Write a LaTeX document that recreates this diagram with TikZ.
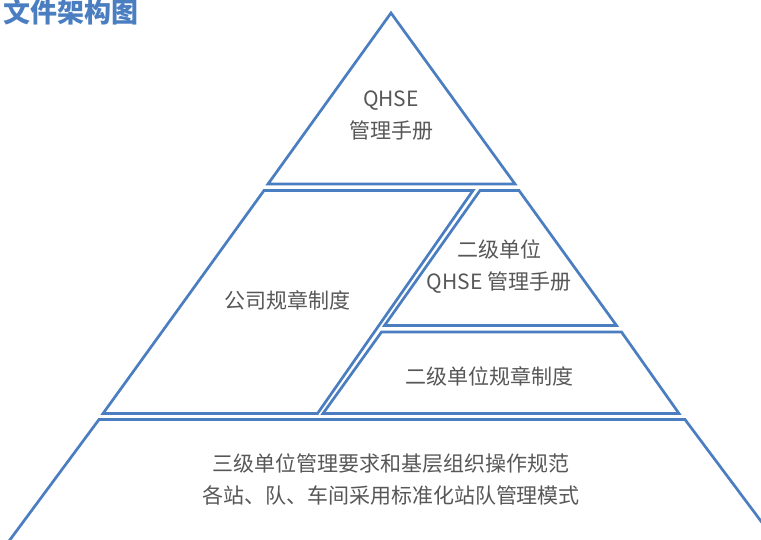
\documentclass[tikz,border=0pt]{standalone}
\usepackage{fontspec}
\setmainfont{Noto Sans CJK SC}
\definecolor{pyblue}{HTML}{4A7EC1}
\definecolor{txtgray}{HTML}{575757}
\tikzset{
	tier/.style = {draw = pyblue, line width = 2.7pt, line join = miter},
	tier text/.style = {text = txtgray, align = center, inner sep = 0pt, font = \fontsize{21}{32}\selectfont}
}

\begin{document}
\begin{tikzpicture}[x = 1pt, y = -1pt]
	\useasboundingbox (0, 0) rectangle (761, 540);
	\clip (0, 0) rectangle (761, 540);

	% title
	\node[anchor = base west, inner sep = 0pt, text = pyblue, font = \fontsize{27}{28}\selectfont\bfseries] (title) at (3, 23) {文件架构图};

	% pyramid tiers
	\draw[tier] (391, 13) -- (268, 184) -- (515, 184) -- cycle;
	\draw[tier] (264, 190.5) -- (473, 190.5) -- (317.5, 413.5) -- (103, 413.5) -- cycle;
	\draw[tier] (480, 190.5) -- (519, 190.5) -- (616.5, 325.5) -- (384.5, 325.5) -- cycle;
	\draw[tier] (381.5, 332) -- (621.5, 332) -- (679, 413.5) -- (323, 413.5) -- cycle;
	\draw[tier] (99, 419.5) -- (685, 419.5) -- (790, 560) -- (-5, 560) -- cycle;

	\node[tier text] (manual) at (391, 115.5) {QHSE\\管理手册};
	\node[tier text] (rules) at (287, 300) {公司规章制度};
	\node[tier text] (unitmanual) at (499, 267) {二级单位\\QHSE 管理手册};
	\node[tier text] (unitrules) at (489, 376) {二级单位规章制度};
	\node[tier text] (base) at (391, 479.5) {三级单位管理要求和基层组织操作规范\\各站、队、车间采用标准化站队管理模式};
\end{tikzpicture}
\end{document}
